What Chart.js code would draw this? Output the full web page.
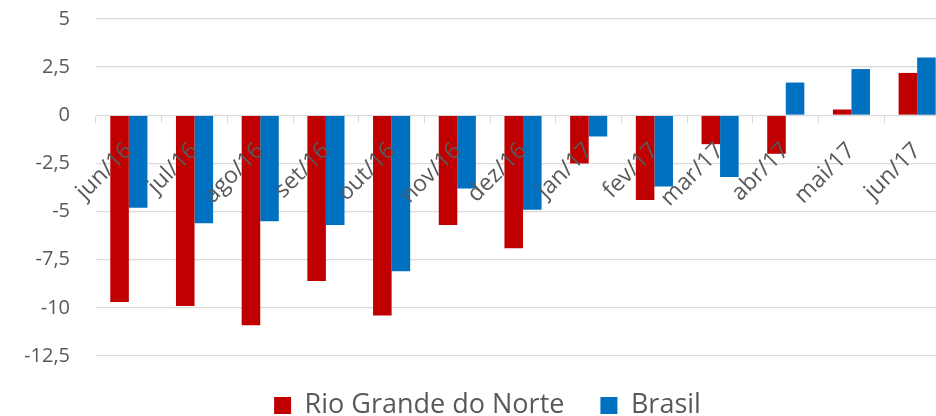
<!DOCTYPE html>
<html>
<head>
<meta charset="utf-8">
<script src="https://cdn.jsdelivr.net/npm/chart.js@4/dist/chart.umd.min.js"></script>
<style>
  html, body { margin: 0; padding: 0; background: #fff; overflow: hidden; }
  #wrap { width: 975px; height: 416px; }
</style>
</head>
<body>
<div id="wrap"><canvas id="myChart" width="975" height="416"></canvas></div>
<script>
const categories = ['jun/16', 'jul/16', 'ago/16', 'set/16', 'out/16', 'nov/16', 'dez/16',
                    'jan/17', 'fev/17', 'mar/17', 'abr/17', 'mai/17', 'jun/17'];
const rioGrandeDoNorte = [-9.7, -9.9, -10.9, -8.6, -10.4, -5.7, -6.9, -2.5, -4.4, -1.5, -2.0, 0.3, 2.2];
const brasil = [-4.8, -5.6, -5.5, -5.7, -8.1, -3.8, -4.9, -1.1, -3.7, -3.2, 1.7, 2.4, 3.0];
const yTicks = [5, 2.5, 0, -2.5, -5, -7.5, -10, -12.5];

const textColor = '#595959';
const gridColor = '#d9d9d9';
const fontFamily = "'Open Sans', 'Noto Sans', sans-serif";

const ctx = document.getElementById('myChart').getContext('2d');
new Chart(ctx, {
    type: 'bar',
    data: {
        labels: categories,
        datasets: [
            {
                label: 'Rio Grande do Norte',
                data: rioGrandeDoNorte,
                backgroundColor: '#c00000',
                borderWidth: 0
            },
            {
                label: 'Brasil',
                data: brasil,
                backgroundColor: '#0070c0',
                borderWidth: 0
            }
        ]
    },
    options: {
        responsive: false,
        animation: false,
        layout: { padding: { top: 19, right: 25, bottom: -13, left: 25 } },
        datasets: {
            bar: { categoryPercentage: 0.565, barPercentage: 1.0 }
        },
        plugins: {
            legend: {
                position: 'bottom',
                labels: {
                    boxWidth: 17,
                    boxHeight: 17,
                    padding: 36,
                    color: textColor,
                    font: { family: fontFamily, size: 27 }
                }
            },
            tooltip: { enabled: false }
        },
        scales: {
            x: {
                position: { y: 0 },
                offset: true,
                grid: {
                    display: true,
                    drawOnChartArea: false,
                    drawTicks: true,
                    tickLength: 7,
                    color: gridColor,
                    offset: true
                },
                border: { color: gridColor, width: 1 },
                ticks: {
                    z: 1,
                    autoSkip: false,
                    minRotation: 45,
                    maxRotation: 45,
                    padding: 15,
                    labelOffset: 0,
                    color: textColor,
                    font: { family: fontFamily, size: 23 }
                },
                afterFit: (scale) => {
                    scale.height = 0;
                    scale.paddingLeft = 0;
                    scale.paddingRight = 0;
                }
            },
            y: {
                min: -12.5,
                max: 5,
                afterBuildTicks: (scale) => {
                    scale.ticks = yTicks.map(v => ({ value: v }));
                },
                grid: { color: gridColor, drawTicks: false, lineWidth: 1.3 },
                border: { display: false },
                ticks: {
                    padding: 26,
                    color: textColor,
                    font: { family: fontFamily, size: 20 },
                    callback: (v) => String(v).replace('.', ',')
                },
                afterFit: (scale) => {
                    scale.width = 71;
                    scale.paddingTop = 0;
                    scale.paddingBottom = 0;
                }
            }
        }
    }
});
</script>
</body>
</html>
